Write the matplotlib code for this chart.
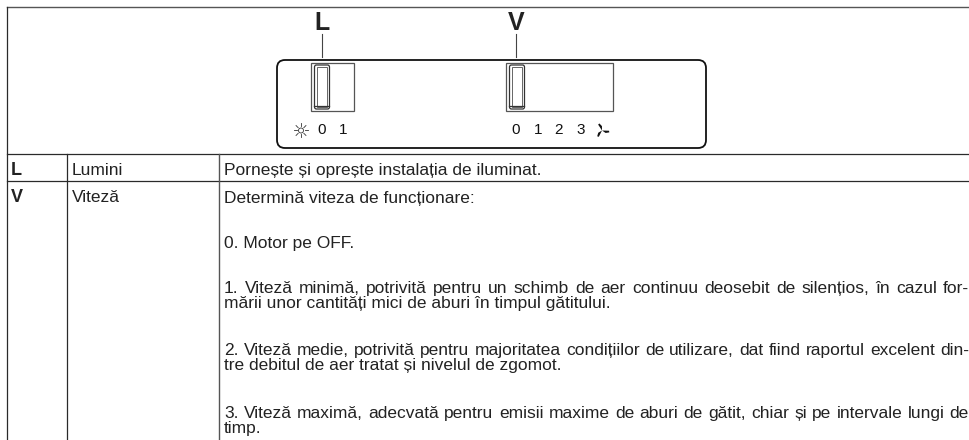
import numpy as np
import matplotlib
matplotlib.use("Agg")
import matplotlib.pyplot as plt
from matplotlib.patches import FancyBboxPatch, Rectangle

plt.rcParams['font.family'] = ['Liberation Sans', 'DejaVu Sans']

# tabel
keys = ["L", "V"]
names = ["Lumini", "Viteză"]
key_y = [175, 202]
lines = [
    "Pornește și oprește instalația de iluminat.",
    "Determină viteza de funcționare:",
    "0. Motor pe OFF.",
    "1. Viteză minimă, potrivită pentru un schimb de aer continuu deosebit de silențios, în cazul for-",
    "mării unor cantități mici de aburi în timpul gătitului.",
    "2. Viteză medie, potrivită pentru majoritatea condițiilor de utilizare, dat fiind raportul excelent din-",
    "tre debitul de aer tratat și nivelul de zgomot.",
    "3. Viteză maximă, adecvată pentru emisii maxime de aburi de gătit, chiar și pe intervale lungi de",
    "timp.",
]
line_y = [174.5, 202.5, 248, 293, 308, 355, 370, 418, 433]
justified = [False, False, False, True, False, True, False, True, False]
light_labels = ["0", "1"]
light_x = [322, 343]
speed_labels = ["0", "1", "2", "3"]
speed_x = [516, 538, 559, 581]

dark = "#2a2a2a"
grey = "#555555"
size = 12.5

fig = plt.figure(figsize=(9.7, 4.4), dpi=100)
ax = fig.add_axes([0, 0, 1, 1])
ax.set_xlim(0, 970)
ax.set_ylim(440, 0)
ax.axis("off")


def text_justified(s, x0, x1, y, fs):
    # rand intins pana la x1, cuvant cu cuvant
    words = s.split(" ")
    rend = fig.canvas.get_renderer()
    ws = []
    for w in words:
        t = ax.text(0, 0, w, fontsize=fs)
        ws.append(t.get_window_extent(rend).width)
        t.remove()
    gap = (x1 - x0 - sum(ws)) / (len(words) - 1)
    x = x0
    for w, wd in zip(words, ws):
        ax.text(x, y, w, fontsize=fs, ha="left", va="baseline", color="#222222")
        x += wd + gap


# liniile tabelului
ax.plot([7.5, 970], [7.5, 7.5], color=grey, lw=1.0)
ax.plot([7.5, 970], [154.5, 154.5], color=dark, lw=0.9)
ax.plot([7.5, 970], [181.5, 181.5], color=dark, lw=0.9)
ax.plot([7.5, 7.5], [7.5, 440], color=dark, lw=0.9)
ax.plot([67.5, 67.5], [154.5, 440], color=dark, lw=0.9)
ax.plot([219, 219], [154.5, 440], color=grey, lw=1.0)

# panoul de comanda
ax.add_patch(FancyBboxPatch((277, 60), 429, 88, boxstyle="round,pad=0,rounding_size=8",
                            fc="white", ec="#111111", lw=1.3))
ax.add_patch(Rectangle((311, 63), 43, 48, fc="none", ec=grey, lw=0.9))
ax.add_patch(Rectangle((506, 63), 107, 48, fc="none", ec=grey, lw=0.9))
for kx in [314.5, 509.5]:
    ax.add_patch(FancyBboxPatch((kx, 65), 15, 44, boxstyle="round,pad=0,rounding_size=2",
                                fc="white", ec="#333333", lw=0.9))
    ax.add_patch(Rectangle((kx + 2.5, 67), 10, 40, fc="none", ec="#666666", lw=0.7))
    ax.plot([kx, kx + 15], [106.5, 106.5], color="#333333", lw=0.9)

# reperele L si V
for lab, x in zip(keys, [322, 516]):
    ax.text(x, 30, lab, fontsize=18, fontweight="bold", ha="center", va="baseline", color="#222222")
    ax.plot([x, x], [34, 57], color="#444444", lw=0.8)

for lab, x in zip(light_labels, light_x):
    ax.text(x, 130.5, lab, fontsize=11, ha="center", va="center", color="#111111")
for lab, x in zip(speed_labels, speed_x):
    ax.text(x, 130.5, lab, fontsize=11, ha="center", va="center", color="#111111")

# soare
ax.add_patch(plt.Circle((301, 130.5), 2.5, fc="white", ec="#333333", lw=0.6))
for a in np.arange(0, 360, 45):
    c, s = np.cos(np.radians(a)), np.sin(np.radians(a))
    ax.plot([301 + 4 * c, 301 + 7 * c], [130.5 + 4 * s, 130.5 + 7 * s], color="#333333", lw=0.6)

# ventilator
fx, fy = 602, 130.5
for a in [-115, 10, 125]:
    t = np.radians(a)
    d = np.array([np.cos(t), np.sin(t)])
    n = np.array([-d[1], d[0]])
    pts = [np.array([fx, fy]), np.array([fx, fy]) + 4 * d + 1.8 * n,
           np.array([fx, fy]) + 7.5 * d + 0.6 * n, np.array([fx, fy]) + 7 * d - 1 * n]
    ax.fill([p[0] for p in pts], [p[1] for p in pts], color="#111111", lw=0)

# textele
for k, n, y in zip(keys, names, key_y):
    ax.text(11, y, k, fontsize=13, fontweight="bold", ha="left", va="baseline", color="#222222")
    ax.text(71.5, y, n, fontsize=size, ha="left", va="baseline", color="#222222")
for s, y, j in zip(lines, line_y, justified):
    if j:
        text_justified(s, 224, 969, y, size)
    else:
        ax.text(224, y, s, fontsize=size, ha="left", va="baseline", color="#222222")

fig.savefig("out.png", dpi=100)
